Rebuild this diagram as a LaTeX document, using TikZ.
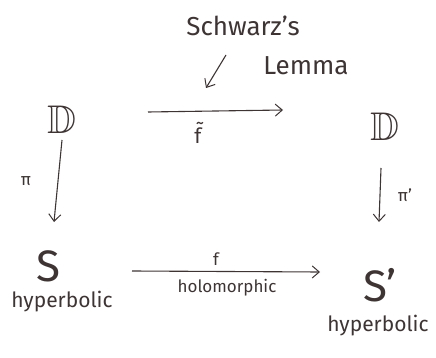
\documentclass[tikz,border=0pt]{standalone}
\usepackage{fontspec}
\setmainfont{Fira Sans}
\usetikzlibrary{arrows.meta}
\definecolor{ink}{HTML}{3E3434}
\font\bbfont=msbm10 at 40pt
\begin{document}
\begin{tikzpicture}[x=1pt,y=-1pt,
  every node/.style={text=ink,inner sep=1pt},
  dd/.style={font=\bbfont},
  obj/.style={font=\fontsize{44}{44}\selectfont},
  lbl/.style={font=\fontsize{21}{21}\selectfont},
  big/.style={font=\fontsize{26}{26}\selectfont},
  sml/.style={font=\fontsize{17}{17}\selectfont},
  map/.style={draw=ink,line width=1.1pt,-{Straight Barb[length=7pt,width=12pt,line width=1pt]}}]
\useasboundingbox (0,0) rectangle (436,358);
\node[dd] (D1) at (62,120) {D};
\node[dd] (D2) at (385,127) {D};
\node[obj] (S1) at (48,266) {S};
\node[obj] (S2) at (380,285) {S’};
\node[lbl] (h1) at (62,302) {hyperbolic};
\node[lbl] (h2) at (378,326) {hyperbolic};
\node[big] (sch) at (243,26) {Schwarz’s};
\node[big] (lem) at (306,66) {Lemma};
\coordinate (a1) at (148,112);
\coordinate (a2) at (283,110);
\draw[map] (a1) -- (a2);
\node[lbl] (ft) at (198,133) {f̃};
\coordinate (b1) at (132,271);
\coordinate (b2) at (320,272);
\draw[map] (b1) -- (b2);
\node[sml] (f) at (216,259) {f};
\node[sml] (hol) at (227,288) {holomorphic};
\coordinate (c1) at (62,140);
\coordinate (c2) at (54,222);
\draw[map] (c1) -- (c2);
\coordinate (e1) at (381,168);
\coordinate (e2) at (379,222);
\draw[map] (e1) -- (e2);
\node[sml] (pi1) at (26,181) {π};
\node[sml] (pi2) at (405,195) {π’};
\coordinate (s1) at (226,55);
\coordinate (s2) at (206,88);
\draw[map] (s1) -- (s2);
\end{tikzpicture}
\end{document}
